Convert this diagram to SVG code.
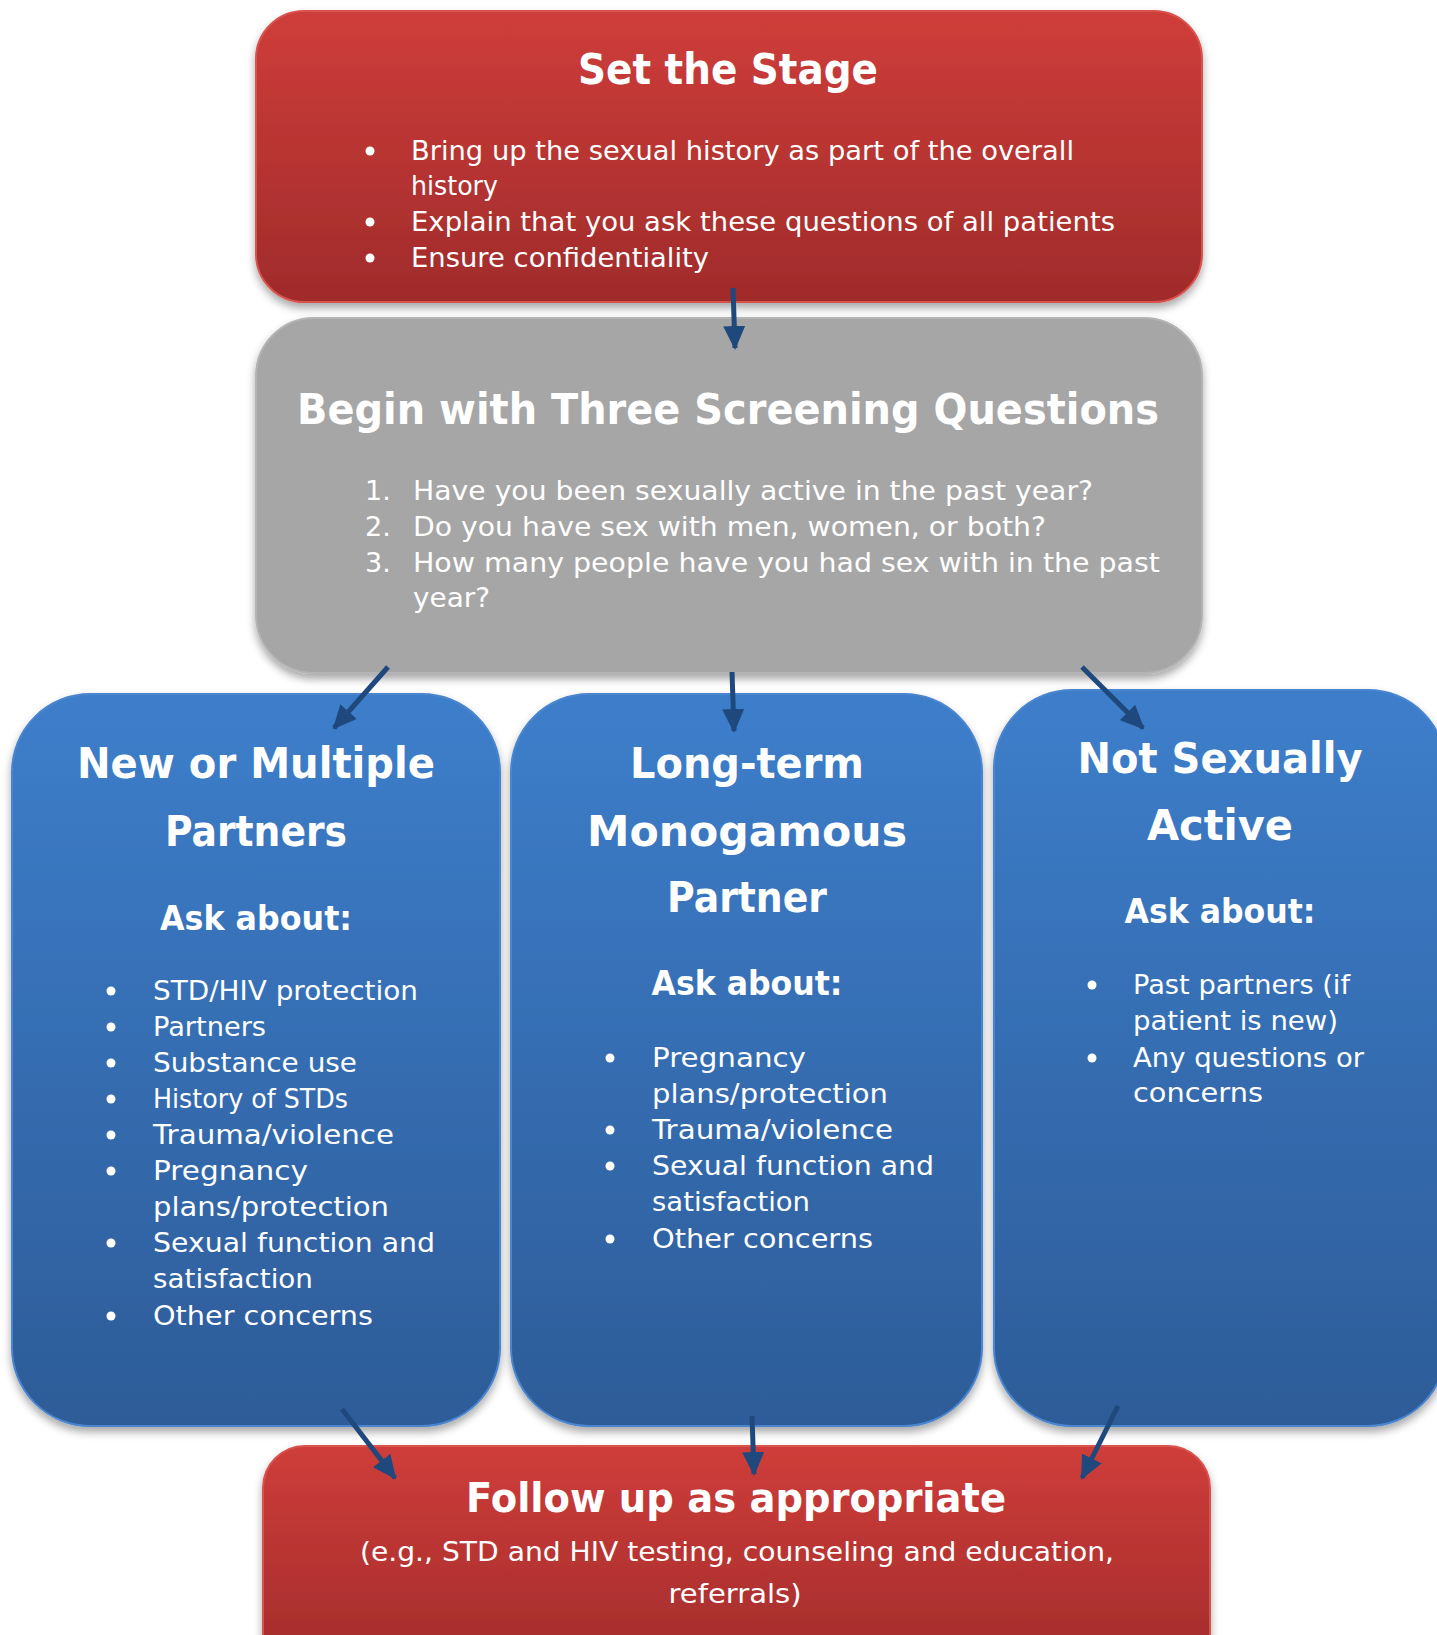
<svg xmlns="http://www.w3.org/2000/svg" width="1437" height="1635" viewBox="0 0 1437 1635">
<defs>
<linearGradient id="gRed" x1="0" y1="0" x2="0" y2="1">
<stop offset="0" stop-color="#CF3D3A"/>
<stop offset="1" stop-color="#A02B2B"/>
</linearGradient>
<linearGradient id="gRedB" gradientUnits="userSpaceOnUse" x1="0" y1="1446" x2="0" y2="1676">
<stop offset="0" stop-color="#CF3D3A"/>
<stop offset="1" stop-color="#A02B2B"/>
</linearGradient>
<linearGradient id="gBlue" x1="0" y1="0" x2="0" y2="1">
<stop offset="0" stop-color="#3D7ECB"/>
<stop offset="1" stop-color="#2D5C98"/>
</linearGradient>
<filter id="sh" x="-10%" y="-10%" width="120%" height="130%">
<feDropShadow dx="0" dy="5" stdDeviation="4" flood-color="#000" flood-opacity="0.35"/>
</filter>
<marker id="ah" markerUnits="userSpaceOnUse" markerWidth="24" markerHeight="22" viewBox="0 0 24 22" refX="22" refY="11" orient="auto">
<path d="M0,0 L24,11 L0,22 Z" fill="#1F497D"/>
</marker>
<style>
.box{filter:url(#sh);}
.red{fill:url(#gRed);stroke:#D9524E;stroke-width:2;}
.redb{fill:url(#gRedB);stroke:#D9524E;stroke-width:2;}
.gray{fill:#A6A6A6;stroke:#B4B4B4;stroke-width:2;}
.blue{fill:url(#gBlue);stroke:#4A86CF;stroke-width:2;}
.h{font-family:"DejaVu Sans",sans-serif;font-weight:bold;fill:#fff;text-anchor:middle;}
.b{font-family:"DejaVu Sans",sans-serif;font-size:27px;fill:#fff;}
.dot{fill:#fff;}
.conn line{stroke:#1F497D;stroke-width:5;marker-end:url(#ah);}
</style>
</defs>
<rect width="1437" height="1635" fill="#fff"/>

<g id="set-the-stage">
<rect class="box red" x="256" y="11" width="946" height="291" rx="48"/>
<text class="h" x="728" y="84" font-size="43" textLength="300" lengthAdjust="spacingAndGlyphs">Set the Stage</text>
<circle class="dot" cx="370" cy="151" r="4.5"/>
<circle class="dot" cx="370" cy="222" r="4.5"/>
<circle class="dot" cx="370" cy="258" r="4.5"/>
<text class="b" x="411" y="160" textLength="663" lengthAdjust="spacingAndGlyphs">Bring up the sexual history as part of the overall</text>
<text class="b" x="411" y="195" textLength="87" lengthAdjust="spacingAndGlyphs">history</text>
<text class="b" x="411" y="231" textLength="704" lengthAdjust="spacingAndGlyphs">Explain that you ask these questions of all patients</text>
<text class="b" x="411" y="267" textLength="298" lengthAdjust="spacingAndGlyphs">Ensure confidentiality</text>
</g>

<g id="screening-questions">
<rect class="box gray" x="256" y="318" width="946" height="355" rx="58"/>
<text class="h" x="728" y="424" font-size="43" textLength="862" lengthAdjust="spacingAndGlyphs">Begin with Three Screening Questions</text>
<text class="b" x="365" y="500">1.</text>
<text class="b" x="365" y="536">2.</text>
<text class="b" x="365" y="572">3.</text>
<text class="b" x="413" y="500" textLength="680" lengthAdjust="spacingAndGlyphs">Have you been sexually active in the past year?</text>
<text class="b" x="413" y="536" textLength="633" lengthAdjust="spacingAndGlyphs">Do you have sex with men, women, or both?</text>
<text class="b" x="413" y="572" textLength="747" lengthAdjust="spacingAndGlyphs">How many people have you had sex with in the past</text>
<text class="b" x="413" y="607" textLength="77" lengthAdjust="spacingAndGlyphs">year?</text>
</g>

<g id="new-or-multiple-partners">
<rect class="box blue" x="12" y="694" width="488" height="732" rx="78"/>
<text class="h" x="256" y="778" font-size="42" textLength="358" lengthAdjust="spacingAndGlyphs">New or Multiple</text>
<text class="h" x="256" y="846" font-size="42" textLength="182" lengthAdjust="spacingAndGlyphs">Partners</text>
<text class="h" x="256" y="930" font-size="33" textLength="192" lengthAdjust="spacingAndGlyphs">Ask about:</text>
<circle class="dot" cx="111" cy="991" r="4.5"/>
<circle class="dot" cx="111" cy="1027" r="4.5"/>
<circle class="dot" cx="111" cy="1063" r="4.5"/>
<circle class="dot" cx="111" cy="1099" r="4.5"/>
<circle class="dot" cx="111" cy="1135" r="4.5"/>
<circle class="dot" cx="111" cy="1171" r="4.5"/>
<circle class="dot" cx="111" cy="1243" r="4.5"/>
<circle class="dot" cx="111" cy="1316" r="4.5"/>
<text class="b" x="153" y="1000" textLength="265" lengthAdjust="spacingAndGlyphs">STD/HIV protection</text>
<text class="b" x="153" y="1036" textLength="113" lengthAdjust="spacingAndGlyphs">Partners</text>
<text class="b" x="153" y="1072" textLength="204" lengthAdjust="spacingAndGlyphs">Substance use</text>
<text class="b" x="153" y="1108" textLength="195" lengthAdjust="spacingAndGlyphs">History of STDs</text>
<text class="b" x="153" y="1144" textLength="241" lengthAdjust="spacingAndGlyphs">Trauma/violence</text>
<text class="b" x="153" y="1180" textLength="155" lengthAdjust="spacingAndGlyphs">Pregnancy</text>
<text class="b" x="153" y="1216" textLength="236" lengthAdjust="spacingAndGlyphs">plans/protection</text>
<text class="b" x="153" y="1252" textLength="282" lengthAdjust="spacingAndGlyphs">Sexual function and</text>
<text class="b" x="153" y="1288" textLength="160" lengthAdjust="spacingAndGlyphs">satisfaction</text>
<text class="b" x="153" y="1325" textLength="220" lengthAdjust="spacingAndGlyphs">Other concerns</text>
</g>

<g id="long-term-monogamous-partner">
<rect class="box blue" x="511" y="694" width="471" height="732" rx="78"/>
<text class="h" x="747" y="778" font-size="42" textLength="234" lengthAdjust="spacingAndGlyphs">Long-term</text>
<text class="h" x="747" y="846" font-size="42" textLength="320" lengthAdjust="spacingAndGlyphs">Monogamous</text>
<text class="h" x="747" y="912" font-size="42" textLength="160" lengthAdjust="spacingAndGlyphs">Partner</text>
<text class="h" x="747" y="995" font-size="33" textLength="191" lengthAdjust="spacingAndGlyphs">Ask about:</text>
<circle class="dot" cx="610" cy="1058" r="4.5"/>
<circle class="dot" cx="610" cy="1130" r="4.5"/>
<circle class="dot" cx="610" cy="1166" r="4.5"/>
<circle class="dot" cx="610" cy="1239" r="4.5"/>
<text class="b" x="652" y="1067" textLength="154" lengthAdjust="spacingAndGlyphs">Pregnancy</text>
<text class="b" x="652" y="1103" textLength="236" lengthAdjust="spacingAndGlyphs">plans/protection</text>
<text class="b" x="652" y="1139" textLength="241" lengthAdjust="spacingAndGlyphs">Trauma/violence</text>
<text class="b" x="652" y="1175" textLength="282" lengthAdjust="spacingAndGlyphs">Sexual function and</text>
<text class="b" x="652" y="1211" textLength="158" lengthAdjust="spacingAndGlyphs">satisfaction</text>
<text class="b" x="652" y="1248" textLength="221" lengthAdjust="spacingAndGlyphs">Other concerns</text>
</g>

<g id="not-sexually-active">
<rect class="box blue" x="994" y="690" width="452" height="736" rx="78"/>
<text class="h" x="1220" y="773" font-size="42" textLength="285" lengthAdjust="spacingAndGlyphs">Not Sexually</text>
<text class="h" x="1220" y="840" font-size="42" textLength="146" lengthAdjust="spacingAndGlyphs">Active</text>
<text class="h" x="1220" y="923" font-size="33" textLength="191" lengthAdjust="spacingAndGlyphs">Ask about:</text>
<circle class="dot" cx="1092" cy="985" r="4.5"/>
<circle class="dot" cx="1092" cy="1058" r="4.5"/>
<text class="b" x="1133" y="994" textLength="217" lengthAdjust="spacingAndGlyphs">Past partners (if</text>
<text class="b" x="1133" y="1030" textLength="205" lengthAdjust="spacingAndGlyphs">patient is new)</text>
<text class="b" x="1133" y="1067" textLength="231" lengthAdjust="spacingAndGlyphs">Any questions or</text>
<text class="b" x="1133" y="1102" textLength="130" lengthAdjust="spacingAndGlyphs">concerns</text>
</g>

<g id="follow-up">
<rect class="box redb" x="263" y="1446" width="947" height="230" rx="42"/>
<text class="h" x="736" y="1512" font-size="40" textLength="540" lengthAdjust="spacingAndGlyphs">Follow up as appropriate</text>
<text class="b" x="737" y="1561" text-anchor="middle" textLength="754" lengthAdjust="spacingAndGlyphs">(e.g., STD and HIV testing, counseling and education,</text>
<text class="b" x="735" y="1603" text-anchor="middle" textLength="133" lengthAdjust="spacingAndGlyphs">referrals)</text>
</g>

<g id="connectors" class="conn">
<line x1="733" y1="288" x2="735" y2="348"/>
<line x1="388" y1="667" x2="334" y2="728"/>
<line x1="732" y1="672" x2="734" y2="731"/>
<line x1="1082" y1="667" x2="1143" y2="728"/>
<line x1="342" y1="1409" x2="395" y2="1478"/>
<line x1="752" y1="1416" x2="754" y2="1474"/>
<line x1="1118" y1="1406" x2="1082" y2="1478"/>
</g>
</svg>
